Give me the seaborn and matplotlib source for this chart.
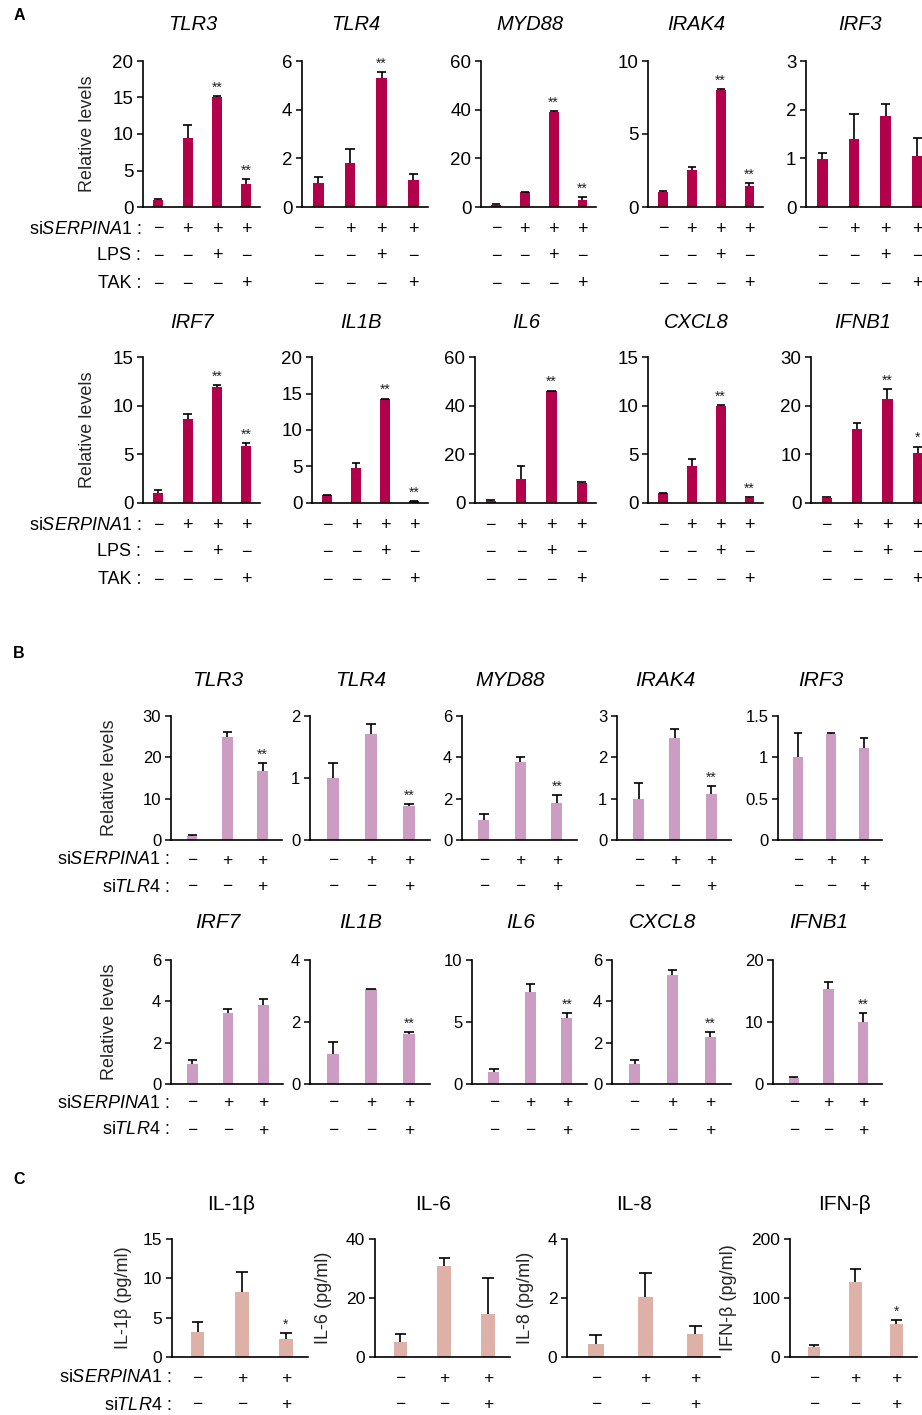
import numpy as np
import pandas as pd
import matplotlib
matplotlib.use("Agg")
import matplotlib.pyplot as plt
import matplotlib.transforms as mtransforms
import seaborn as sns

# ---------------- data ----------------
a_genes = ["TLR3", "TLR4", "MYD88", "IRAK4", "IRF3", "IRF7", "IL1B", "IL6", "CXCL8", "IFNB1"]
a_means = [[1.0, 9.4, 15.1, 3.2], [1.0, 1.8, 5.3, 1.11], [1.0, 6.0, 39.2, 2.9],
           [1.05, 2.53, 8.0, 1.46], [0.99, 1.40, 1.88, 1.05],
           [1.0, 8.6, 11.9, 5.9], [1.1, 4.84, 14.2, 0.25], [1.0, 9.9, 46.0, 8.35],
           [1.0, 3.83, 10.0, 0.55], [0.97, 15.3, 21.4, 10.3]]
a_errs = [[0.05, 1.9, 0.1, 0.6], [0.25, 0.58, 0.24, 0.23], [0.2, 0.3, 0.3, 1.1],
          [0.05, 0.23, 0.05, 0.18], [0.11, 0.52, 0.24, 0.37],
          [0.34, 0.58, 0.25, 0.23], [0.05, 0.6, 0.1, 0.05], [0.2, 5.3, 0.2, 0.2],
          [0.05, 0.66, 0.05, 0.05], [0.33, 1.1, 2.0, 1.3]]
a_sig = [["", "", "**", "**"], ["", "", "**", ""], ["", "", "**", "**"],
         ["", "", "**", "**"], ["", "", "", ""],
         ["", "", "**", "**"], ["", "", "**", "**"], ["", "", "**", ""],
         ["", "", "**", "**"], ["", "", "**", "*"]]
a_ymax = [20, 6, 60, 10, 3, 15, 20, 60, 15, 30]
a_step = [5, 2, 20, 5, 1, 5, 5, 20, 5, 10]
a_rows = ["si$\\mathit{SERPINA1}$ :", "LPS :", "TAK :"]
a_signs = [["−", "+", "+", "+"], ["−", "−", "+", "−"], ["−", "−", "−", "+"]]

b_genes = ["TLR3", "TLR4", "MYD88", "IRAK4", "IRF3", "IRF7", "IL1B", "IL6", "CXCL8", "IFNB1"]
b_means = [[1.0, 25.0, 16.7], [1.0, 1.71, 0.55], [0.97, 3.79, 1.78], [1.0, 2.46, 1.11],
           [1.0, 1.28, 1.11], [0.97, 3.42, 3.82], [0.98, 3.05, 1.60], [0.94, 7.44, 5.32],
           [0.97, 5.27, 2.26], [0.91, 15.4, 10.0]]
b_errs = [[0.1, 1.2, 1.9], [0.25, 0.16, 0.03], [0.27, 0.24, 0.41], [0.39, 0.22, 0.2],
          [0.29, 0.02, 0.12], [0.19, 0.21, 0.31], [0.39, 0.02, 0.07], [0.29, 0.65, 0.38],
          [0.21, 0.25, 0.24], [0.27, 1.1, 1.45]]
b_sig = [["", "", "**"], ["", "", "**"], ["", "", "**"], ["", "", "**"], ["", "", ""],
         ["", "", ""], ["", "", "**"], ["", "", "**"], ["", "", "**"], ["", "", "**"]]
b_ymax = [30, 2, 6, 3, 1.5, 6, 4, 10, 6, 20]
b_step = [10, 1, 2, 1, 0.5, 2, 2, 5, 2, 10]
b_rows = ["si$\\mathit{SERPINA1}$ :", "si$\\mathit{TLR4}$ :"]
b_signs = [["−", "+", "+"], ["−", "−", "+"]]

c_names = ["IL-1β", "IL-6", "IL-8", "IFN-β"]
c_means = [[3.14, 8.3, 2.29], [5.2, 30.9, 14.5], [0.44, 2.02, 0.78], [17.5, 127.6, 55.9]]
c_errs = [[1.35, 2.54, 0.71], [2.6, 2.5, 12.2], [0.31, 0.84, 0.28], [3.5, 22.4, 6.1]]
c_sig = [["", "", "*"], ["", "", ""], ["", "", ""], ["", "", "*"]]
c_ymax = [15, 40, 4, 200]
c_step = [5, 20, 2, 100]

# ---------------- style ----------------
sns.set_style("ticks")
plt.rcParams["font.family"] = ["Liberation Sans", "DejaVu Sans"]
plt.rcParams["mathtext.fontset"] = "custom"
plt.rcParams["mathtext.rm"] = "Liberation Sans"
plt.rcParams["mathtext.it"] = "Liberation Sans:italic"
plt.rcParams["mathtext.bf"] = "Liberation Sans:bold"
plt.rcParams["text.color"] = "black"
plt.rcParams["axes.edgecolor"] = "black"
plt.rcParams["xtick.color"] = "black"
plt.rcParams["ytick.color"] = "black"

W, H = 922, 1415
fig = plt.figure(figsize=(W / 100, H / 100), dpi=100)

col_a, col_b, col_c = "#B2004A", "#CC9CC3", "#DDB1A8"


def add_ax(left, right, top, bottom):
    return fig.add_axes([left / W, 1 - bottom / H, (right - left) / W, (bottom - top) / H])


def draw(ax, means, errs, sig, ymax, step, color, xlim, bw, fs):
    n = len(means)
    df = pd.DataFrame({"grp": [str(i) for i in range(n)], "val": means})
    sns.barplot(data=df, x="grp", y="val", color=color, saturation=1, width=bw,
                errorbar=None, ax=ax, linewidth=0)
    xs = np.arange(n)
    tops = np.array(means) + np.array(errs)
    # one-sided error bars: stem from bar top plus a cap
    ax.vlines(xs, means, tops, color="black", lw=1.2, zorder=3)
    ax.hlines(tops, xs - bw * 0.42, xs + bw * 0.42, color="black", lw=1.2, zorder=3)
    for i in range(n):
        if sig[i]:
            ax.annotate(sig[i], (i, tops[i]), xytext=(0, 1), textcoords="offset points",
                        ha="center", va="bottom", fontsize=10, color="#222222")
    ticks = np.arange(0, ymax + step / 2, step)
    ax.set_ylim(0, ymax)
    ax.set_yticks(ticks)
    ax.set_yticklabels([f"{t:g}" for t in ticks], fontsize=fs)
    ax.set_xlim(*xlim)
    ax.set_xticks([])
    ax.set_xlabel("")
    ax.set_ylabel("")
    ax.tick_params(axis="y", length=4, width=1.1, pad=3)
    for s in ("left", "bottom"):
        ax.spines[s].set_linewidth(1.2)
    sns.despine(ax=ax)


def sign_rows(ax, signs, ys, fs):
    tr = mtransforms.blended_transform_factory(ax.transData, fig.transFigure)
    for row, y in zip(signs, ys):
        for i, s in enumerate(row):
            ax.text(i, 1 - y / H, s, transform=tr, ha="center", va="center", fontsize=fs,
                    clip_on=False)


def row_labels(labels, xend, ys, fs):
    for lab, y in zip(labels, ys):
        fig.text(xend / W, 1 - y / H, lab, ha="right", va="center", fontsize=fs)


def ylab(ax, text, xc, left, right, fs):
    ax.set_ylabel(text, fontsize=fs)
    ax.yaxis.label.set_va("center")
    ax.yaxis.set_label_coords((xc - left) / (right - left), 0.5)


def title(left, right, y, text, italic, fs):
    fig.text(((left + right) / 2 - 9) / W, 1 - y / H, text, ha="center", va="center",
             fontsize=fs, fontstyle="italic" if italic else "normal")


# ---------------- panel A ----------------
a_pos = [(143, 260), (302, 428), (481, 596), (648, 763), (806, 932),
         (143, 260), (312, 428), (475, 596), (648, 763), (811, 932)]
a_top = [61, 357]
a_bot = [207, 503]
a_title_y = [24, 322]
a_sign_y = [[229, 256, 284], [526, 552, 580]]
for k, g in enumerate(a_genes):
    r = k // 5
    l, rt = a_pos[k]
    ax = add_ax(l, rt, a_top[r], a_bot[r])
    draw(ax, a_means[k], a_errs[k], a_sig[k], a_ymax[k], a_step[k], col_a, (-0.52, 3.47), 0.34, 13.5)
    sign_rows(ax, a_signs, a_sign_y[r], 13)
    title(l, rt, a_title_y[r], g, True, 14.5)
    if k % 5 == 0:
        ylab(ax, "Relative levels", 88, l, rt, 13)
        row_labels(a_rows, 141, a_sign_y[r], 13)

# ---------------- panel B ----------------
b_pos = [(171, 282), (310, 430), (462, 577), (617, 731), (778, 882),
         (171, 283), (310, 430), (472, 587), (612, 731), (773, 882)]
b_top = [716, 960]
b_bot = [840, 1084]
b_title_y = [680, 923]
b_sign_y = [[860, 887], [1103, 1130]]
for k, g in enumerate(b_genes):
    r = k // 5
    l, rt = b_pos[k]
    ax = add_ax(l, rt, b_top[r], b_bot[r])
    draw(ax, b_means[k], b_errs[k], b_sig[k], b_ymax[k], b_step[k], col_b, (-0.6, 2.55), 0.3, 12)
    sign_rows(ax, b_signs, b_sign_y[r], 12.5)
    title(l, rt, b_title_y[r], g, True, 15)
    if k % 5 == 0:
        ylab(ax, "Relative levels", 109, l, rt, 13)
        row_labels(b_rows, 169, b_sign_y[r], 13)

# ---------------- panel C ----------------
c_pos = [(172, 308), (375, 510), (567, 720), (790, 917)]
c_ylab_x = [124, 323, 525, 728]
c_sign_y = [1378, 1405]
for k, name in enumerate(c_names):
    l, rt = c_pos[k]
    ax = add_ax(l, rt, 1239, 1357)
    draw(ax, c_means[k], c_errs[k], c_sig[k], c_ymax[k], c_step[k], col_c, (-0.58, 2.5), 0.31, 12.5)
    sign_rows(ax, b_signs, c_sign_y, 12.5)
    title(l, rt, 1205, name, False, 15)
    ylab(ax, f"{name} (pg/ml)", c_ylab_x[k], l, rt, 13)
    if k == 0:
        row_labels(b_rows, 171, c_sign_y, 13)

for lab, y in zip(["A", "B", "C"], [16, 653, 1180]):
    fig.text(19 / W, 1 - y / H, lab, ha="center", va="center", fontsize=11.5, fontweight="bold")

fig.savefig("out.png", dpi=100)
